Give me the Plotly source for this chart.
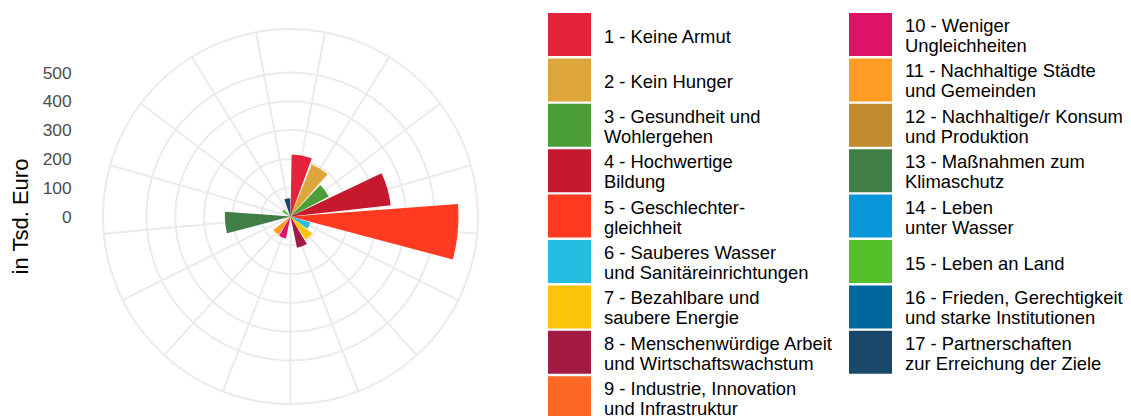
import plotly.graph_objects as go

# Sustainable Development Goals, amounts in thousand euros
goal_labels = [
    ["1 - Keine Armut"],
    ["2 - Kein Hunger"],
    ["3 - Gesundheit und", "Wohlergehen"],
    ["4 - Hochwertige", "Bildung"],
    ["5 - Geschlechter-", "gleichheit"],
    ["6 - Sauberes Wasser", "und Sanitäreinrichtungen"],
    ["7 - Bezahlbare und", "saubere Energie"],
    ["8 - Menschenwürdige Arbeit", "und Wirtschaftswachstum"],
    ["9 - Industrie, Innovation", "und Infrastruktur"],
    ["10 - Weniger", "Ungleichheiten"],
    ["11 - Nachhaltige Städte", "und Gemeinden"],
    ["12 - Nachhaltige/r Konsum", "und Produktion"],
    ["13 - Maßnahmen zum", "Klimaschutz"],
    ["14 - Leben", "unter Wasser"],
    ["15 - Leben an Land"],
    ["16 - Frieden, Gerechtigkeit", "und starke Institutionen"],
    ["17 - Partnerschaften", "zur Erreichung der Ziele"],
]
goal_colors = [
    "#E5243B", "#DDA63A", "#4C9F38", "#C5192D", "#FF3A21", "#26BDE2",
    "#FCC30B", "#A21942", "#FD6925", "#DD1367", "#FD9D24", "#BF8B2E",
    "#3F7E44", "#0A97D9", "#56C02B", "#00689D", "#19486A",
]
amounts = [215, 195, 150, 350, 583, 72, 96, 111, 0, 78, 76, 0, 228, 0, 33, 0, 63]
radial_ticks = [0, 100, 200, 300, 400, 500]

FONT = "Liberation Sans, Arial, sans-serif"
GRID = "#EBEBEB"
W, H = 1131, 416

n = len(amounts)
step = 360.0 / n
theta = [(i + 0.5) * step for i in range(n)]
r_max = 651  # outer edge of the polar panel

# polar panel geometry (pixels)
cx, cy, rad = 290.5, 216.5, 187.5
pol_x = [(cx - rad) / W, (cx + rad) / W]
pol_y = [(H - cy - rad) / H, (H - cy + rad) / H]

fig = go.Figure()

fig.add_trace(go.Barpolar(
    r=amounts, theta=theta, width=[0.9 * step] * n,
    marker=dict(color=goal_colors, line=dict(width=0)),
    showlegend=False, hoverinfo="skip",
))

# legend: two columns of colour swatches with labels
rows_per_col = 9
col_sq_x = [569.5, 870.5]
col_txt_x = [604, 905]
row_top, row_pitch = 34.5, 45.4
sq_x, sq_y, tx, ty, tt = [], [], [], [], []
for i, lines in enumerate(goal_labels):
    col, row = divmod(i, rows_per_col)
    yc = row_top + row * row_pitch
    sq_x.append(col_sq_x[col])
    sq_y.append(yc)
    if len(lines) == 1:
        tx.append(col_txt_x[col]); ty.append(yc + 3.9); tt.append(lines[0])
    else:
        tx.append(col_txt_x[col]); ty.append(yc - 7.1); tt.append(lines[0])
        tx.append(col_txt_x[col]); ty.append(yc + 12.9); tt.append(lines[1])

fig.add_trace(go.Scatter(
    x=sq_x, y=sq_y, mode="markers", xaxis="x", yaxis="y",
    marker=dict(symbol="square", size=43, color=goal_colors, line=dict(width=0)),
    showlegend=False, hoverinfo="skip",
))
fig.add_trace(go.Scatter(
    x=tx, y=ty, text=tt, mode="text", textposition="middle right",
    textfont=dict(family=FONT, size=18.4, color="#000000"),
    xaxis="x", yaxis="y", showlegend=False, hoverinfo="skip",
))

# radial value scale on the left
fig.add_trace(go.Scatter(x=[], y=[], xaxis="x2", yaxis="y2", showlegend=False))

fig.update_layout(
    width=W, height=H,
    margin=dict(l=0, r=0, t=0, b=0),
    paper_bgcolor="white", plot_bgcolor="rgba(0,0,0,0)",
    polar=dict(
        domain=dict(x=pol_x, y=pol_y),
        bgcolor="white",
        radialaxis=dict(
            range=[0, r_max], tickvals=radial_ticks[1:], showticklabels=False,
            ticks="", showline=False, gridcolor=GRID, gridwidth=2,
            layer="below traces",
        ),
        angularaxis=dict(
            thetaunit="degrees", direction="clockwise", rotation=90,
            tickvals=theta, showticklabels=False, ticks="",
            showline=True, linecolor=GRID, linewidth=2,
            gridcolor=GRID, gridwidth=2, layer="below traces",
        ),
    ),
    xaxis=dict(domain=[0, 1], range=[0, W], visible=False, fixedrange=True),
    yaxis=dict(domain=[0, 1], range=[H, 0], visible=False, fixedrange=True),
    xaxis2=dict(domain=[0.0643, 0.07], visible=False, fixedrange=True),
    yaxis2=dict(
        domain=pol_y, anchor="x2", side="left",
        range=[-r_max, r_max], tickvals=radial_ticks,
        showgrid=False, zeroline=False, showline=False, ticks="",
        tickfont=dict(family=FONT, size=17.4, color="#4D4D4D"),
        title=dict(text="in Tsd. Euro", standoff=8,
                   font=dict(family=FONT, size=22, color="#000000")),
        fixedrange=True,
    ),
)

fig.write_html("out.html")
